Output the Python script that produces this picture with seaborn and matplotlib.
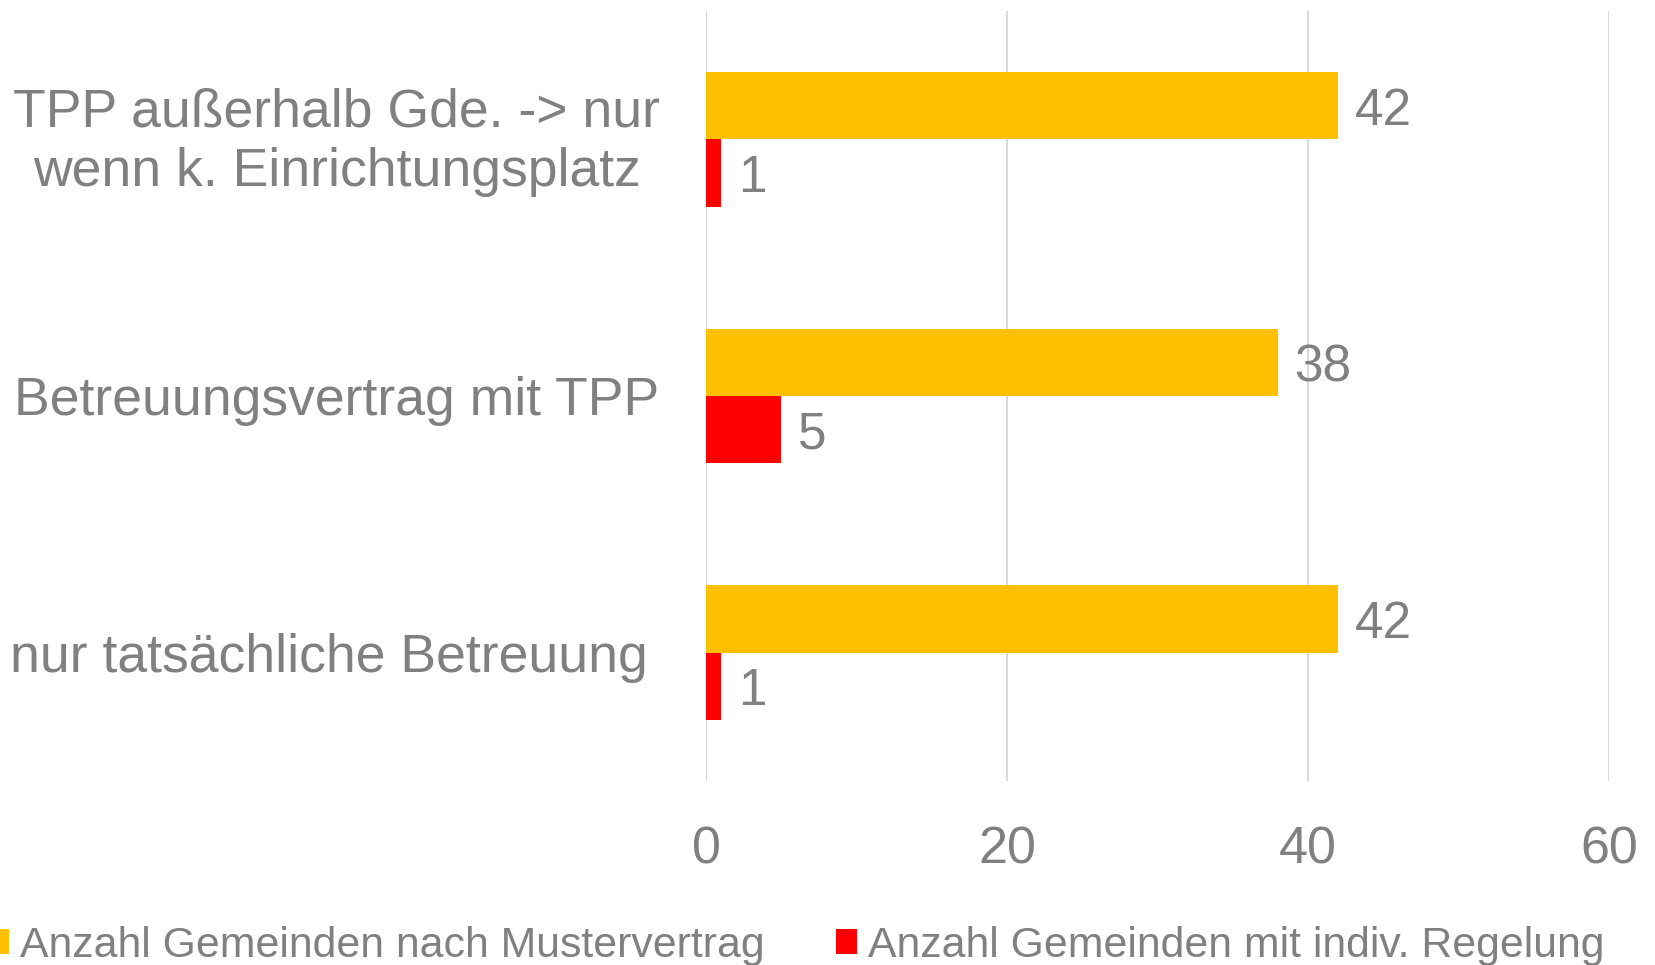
import matplotlib
matplotlib.use("Agg")
import matplotlib.pyplot as plt
import matplotlib.transforms as mtrans
import seaborn as sns
import pandas as pd
from matplotlib.patches import Patch

categories = ["TPP außerhalb Gde. -> nur\nwenn k. Einrichtungsplatz",
              "Betreuungsvertrag mit TPP",
              "nur tatsächliche Betreuung "]
series_names = ["Anzahl Gemeinden nach Mustervertrag",
                "Anzahl Gemeinden mit indiv. Regelung"]
muster = [42, 38, 42]
indiv = [1, 5, 1]
colors = ["#FFC000", "#FF0000"]
xticks = [0, 20, 40, 60]

sns.set_theme(style="white")
plt.rcParams["font.family"] = ["Liberation Sans", "DejaVu Sans"]
TXT = "#808080"

df = pd.DataFrame({
    "cat": categories * 2,
    "series": [series_names[0]] * 3 + [series_names[1]] * 3,
    "val": muster + indiv,
})

fig = plt.figure(figsize=(16.55, 9.65), dpi=100)
ax = fig.add_axes([0.4266, 0.1907, 0.5456, 0.7979])
sns.barplot(data=df, y="cat", x="val", hue="series", order=categories,
            hue_order=series_names, palette=colors, orient="h",
            width=0.525, ax=ax, legend=False, saturation=1, linewidth=0)

ax.set_xlim(0, 60)
ax.set_ylim(2.5, -0.5)
ax.set_xticks(xticks)
ax.set_xticklabels([str(t) for t in xticks], fontsize=37.5, color=TXT)
ax.tick_params(axis="x", length=0, pad=32)
ax.set_yticks(range(len(categories)))
ax.set_yticklabels(categories, fontsize=38.5, color=TXT, ha="center",
                   multialignment="center", linespacing=1.24)
ax.tick_params(axis="y", length=0, pad=266)
# nudge the two-line label upward slightly
first = ax.get_yticklabels()[0]
first.set_transform(first.get_transform() +
                    mtrans.ScaledTranslation(0, 7 / 100, fig.dpi_scale_trans))
ax.set_xlabel("")
ax.set_ylabel("")
for s in ax.spines.values():
    s.set_visible(False)
ax.grid(axis="x", color="#D9D9D9", linewidth=1.5)
ax.set_axisbelow(True)

for cont in ax.containers:
    texts = ax.bar_label(cont, labels=[f"{v:g}" for v in cont.datavalues],
                         padding=12, fontsize=37, color=TXT)
    for t in texts:
        x0, y0 = t.xyann
        t.xyann = (x0, y0 - 4)

handles = [Patch(facecolor=c, edgecolor="none") for c in colors]
fig.legend(handles, series_names, loc="center left",
           bbox_to_anchor=(-0.0075, 0.02), ncol=2, frameon=False,
           fontsize=30.75, labelcolor=TXT, handlelength=0.5, handleheight=0.5,
           handletextpad=0.25, columnspacing=1.68, borderpad=0,
           borderaxespad=0)

fig.savefig("out.png", dpi=100)
